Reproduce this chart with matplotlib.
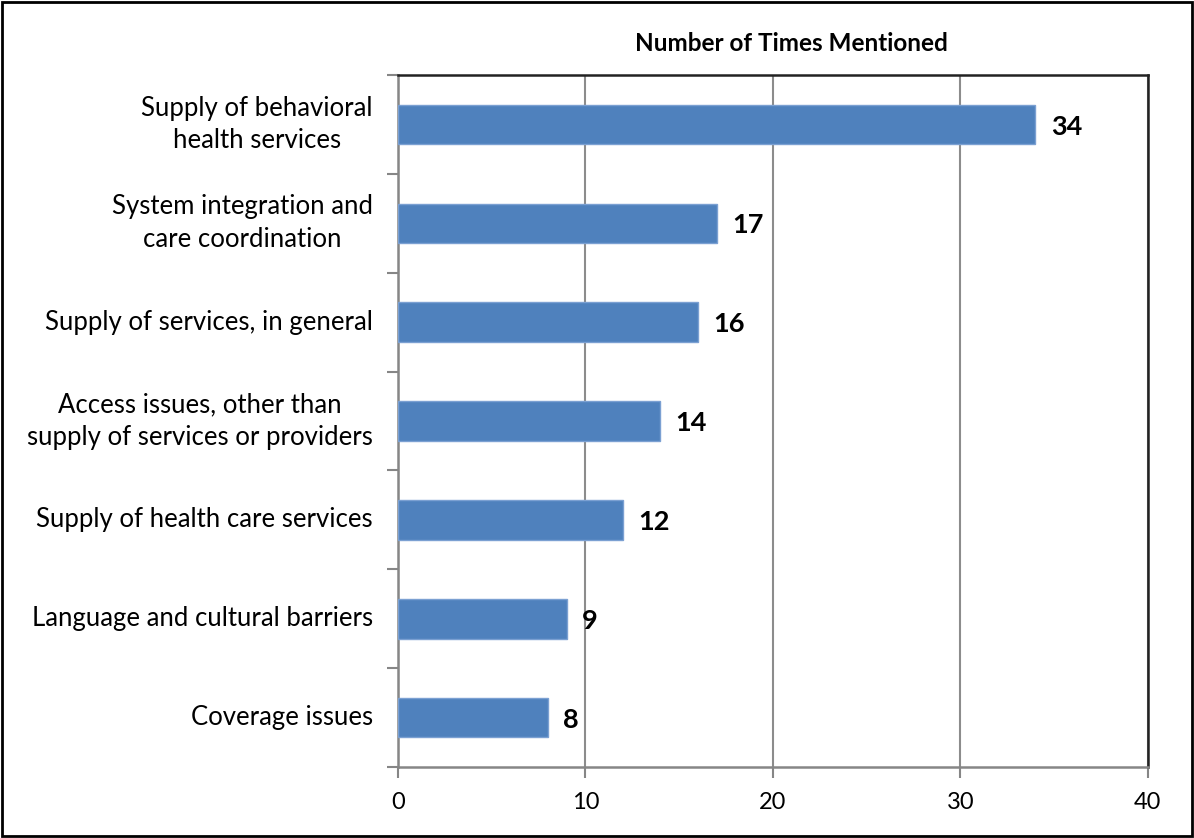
import matplotlib
matplotlib.use("Agg")
import matplotlib.pyplot as plt
from matplotlib.patches import Rectangle

plt.rcParams['font.family'] = ['Lato', 'DejaVu Sans']

categories = [
    "Supply of behavioral\nhealth services",
    "System integration and\ncare coordination",
    "Supply of services, in general",
    "Access issues, other than\nsupply of services or providers",
    "Supply of health care services",
    "Language and cultural barriers",
    "Coverage issues",
]
counts = [34, 17, 16, 14, 12, 9, 8]
x_ticks = [0, 10, 20, 30, 40]
title = "Number of Times Mentioned"

fig = plt.figure(figsize=(11.94, 8.38), dpi=100)
ax = fig.add_axes([0.3333, 0.0847, 0.6281, 0.8258])

n = len(categories)
ypos = list(range(n))
ax.barh(ypos, counts, height=0.4, color="#4F81BD", edgecolor="#7BA0D2",
        linewidth=1.0, zorder=3)

for y, v in zip(ypos, counts):
    ax.annotate(str(v), xy=(v, y), xytext=(11, -1.5), textcoords="offset points",
                va="center", ha="left", fontsize=19.5, fontweight="bold", zorder=4)

ax.set_xlim(0, 40)
ax.set_ylim(n - 0.5, -0.5)
ax.set_xticks(x_ticks)
ax.set_xticklabels([str(t) for t in x_ticks], fontsize=17)

ax.set_yticks(ypos)
ax.set_yticklabels(categories, fontsize=18.5, ha="right", va="center", linespacing=1.38)
ax.tick_params(axis="y", length=0, pad=18)
for lbl in ax.get_yticklabels():
    lbl.set_multialignment("center")

# category separator ticks on the left axis
ax.set_yticks([i - 0.5 for i in range(n + 1)], minor=True)
ax.tick_params(axis="y", which="minor", length=8, color="#868686", width=1.5)
ax.tick_params(axis="x", length=8, color="#868686", width=1.5, pad=10)

ax.grid(axis="x", color="#8C8C8C", linewidth=1.5, zorder=0)
ax.set_axisbelow(True)

ax.spines["left"].set_color("#868686")
ax.spines["bottom"].set_color("#868686")
ax.spines["left"].set_linewidth(1.8)
ax.spines["bottom"].set_linewidth(1.8)
ax.spines["top"].set_color("#222222")
ax.spines["right"].set_color("#222222")
ax.spines["top"].set_linewidth(1.8)
ax.spines["right"].set_linewidth(1.8)

ax.set_title(title, fontsize=17.5, fontweight="bold", pad=17, x=0.525)

fig.patches.append(Rectangle((0.0015, 0.002), 0.997, 0.996, transform=fig.transFigure,
                             fill=False, edgecolor="black", linewidth=2.0))

fig.savefig("out.png", dpi=100)
